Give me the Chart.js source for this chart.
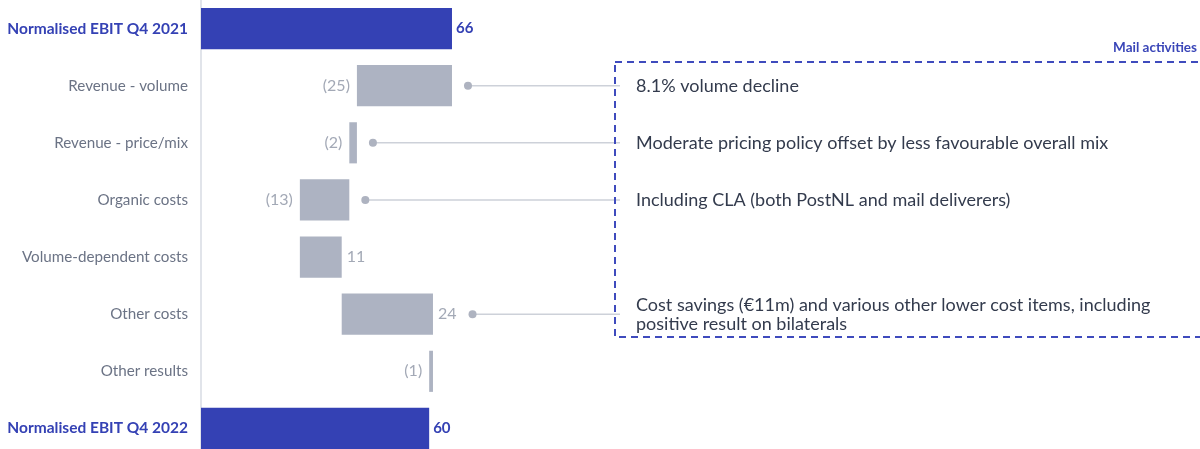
<!DOCTYPE html>
<html>
<head>
<meta charset="utf-8">
<script src="https://cdn.jsdelivr.net/npm/chart.js@4/dist/chart.umd.min.js"></script>
<style>
body{margin:0;overflow:hidden;background:#fff;}
#wrap{width:1200px;height:457px;}
</style>
</head>
<body>
<div id="wrap"><canvas id="ebitChart" width="1200" height="457"></canvas></div>
<script>

// Data

const categories = [
"Normalised EBIT Q4 2021",
"Revenue - volume",
"Revenue - price/mix",
"Organic costs",
"Volume-dependent costs",
"Other costs",
"Other results",
"Normalised EBIT Q4 2022"
];

const changes = [66, -25, -2, -13, 11, 24, -1, 60];

const isTotal = [true, false, false, false, false, false, false, true];

const notes = [
null,
["8.1% volume decline"],
["Moderate pricing policy offset by less favourable overall mix"],
["Including CLA (both PostNL and mail deliverers)"],
null,
["Cost savings (€11m) and various other lower cost items, including", "positive result on bilaterals"],
null,
null
];

const boxTitle = "Mail activities";

// waterfall ranges

let running = 0;
const ranges = changes.map((v,i)=>{
if(isTotal[i]){
running = v;
return [0, v];
}
const start = running;
running = running + v;
return [Math.min(start, running), Math.max(start, running)];
});

const labelText = changes.map(v => v < 0 ? "(" + Math.abs(v) + ")" : String(v));

const blue = "#3441b4";
const grey = "#adb3c2";

const fontFam = "Lato, 'Open Sans', sans-serif";

const overlay = {
id:"overlay",
afterDatasetsDraw(chart){
const ctx = chart.ctx;
const x = chart.scales.x;
const y = chart.scales.y;
ctx.save();
ctx.textBaseline = "middle";

ranges.forEach((r,i)=>{
const yc = y.getPixelForValue(i);
const left = x.getPixelForValue(r[0]);
const right = x.getPixelForValue(r[1]);
let endX;
if(isTotal[i]){
ctx.font = "bold 15px " + fontFam;
ctx.fillStyle = blue;
ctx.textAlign = "left";
ctx.fillText(labelText[i], right + 4, yc);
endX = right + 4 + ctx.measureText(labelText[i]).width;
} else if(changes[i] < 0){
ctx.font = "16px " + fontFam;
ctx.fillStyle = "#a3a9b6";
ctx.textAlign = "right";
ctx.fillText(labelText[i], left - 7, yc);
endX = right;
} else {
ctx.font = "16px " + fontFam;
ctx.fillStyle = "#a3a9b6";
ctx.textAlign = "left";
ctx.fillText(labelText[i], right + 5, yc);
endX = right + 5 + ctx.measureText(labelText[i]).width;
}

if(notes[i]){
const dotX = endX + 16;
ctx.strokeStyle = "#cdd1d9";
ctx.lineWidth = 1.5;
ctx.beginPath();
ctx.moveTo(dotX, yc);
ctx.lineTo(620, yc);
ctx.stroke();
ctx.fillStyle = "#aeb3c0";
ctx.beginPath();
ctx.arc(dotX, yc, 4, 0, Math.PI*2);
ctx.fill();

ctx.font = "18px " + fontFam;
ctx.fillStyle = "#333b4d";
ctx.textAlign = "left";
const lines = notes[i];
lines.forEach((t,k)=>{
const off = (k - (lines.length-1)/2) * 19;
ctx.fillText(t, 636, yc + off);
});
}
});

// dashed box
ctx.setLineDash([7,5]);
ctx.strokeStyle = "#3f4bbd";
ctx.lineWidth = 2;
ctx.strokeRect(615, 62, 600, 275);
ctx.setLineDash([]);

ctx.font = "bold 13.5px " + fontFam;
ctx.fillStyle = "#3a46b8";
ctx.textAlign = "right";
ctx.fillText(boxTitle, 1197, 48);

ctx.restore();
}
};

const ebitChart = document.getElementById("ebitChart");

if(ebitChart){

new Chart(ebitChart,{

type:"bar",

data:{
labels:categories,
datasets:[{
data:ranges,
backgroundColor:isTotal.map(t => t ? blue : grey),
borderWidth:0,
borderSkipped:false,
categoryPercentage:1,
barPercentage:0.72
}]
},

options:{
indexAxis:"y",
responsive:false,
animation:false,
layout:{padding:0},
plugins:{
legend:{display:false},
tooltip:{enabled:false}
},
scales:{
x:{
display:false,
min:0,
max:262.7
},
y:{
afterFit(scale){
scale.width = 201;
scale.paddingTop = 0;
scale.paddingBottom = 0;
},
grid:{display:false,drawTicks:false},
border:{display:true,color:"#e1e4ea",width:2},
ticks:{
padding:13,
color:(c)=> isTotal[c.index] ? blue : "#6b7385",
font:(c)=> isTotal[c.index]
? {family:fontFam,size:15.5,weight:"bold"}
: {family:fontFam,size:15.2}
}
}
}
},

plugins:[overlay]

});

}
</script>
</body>
</html>
